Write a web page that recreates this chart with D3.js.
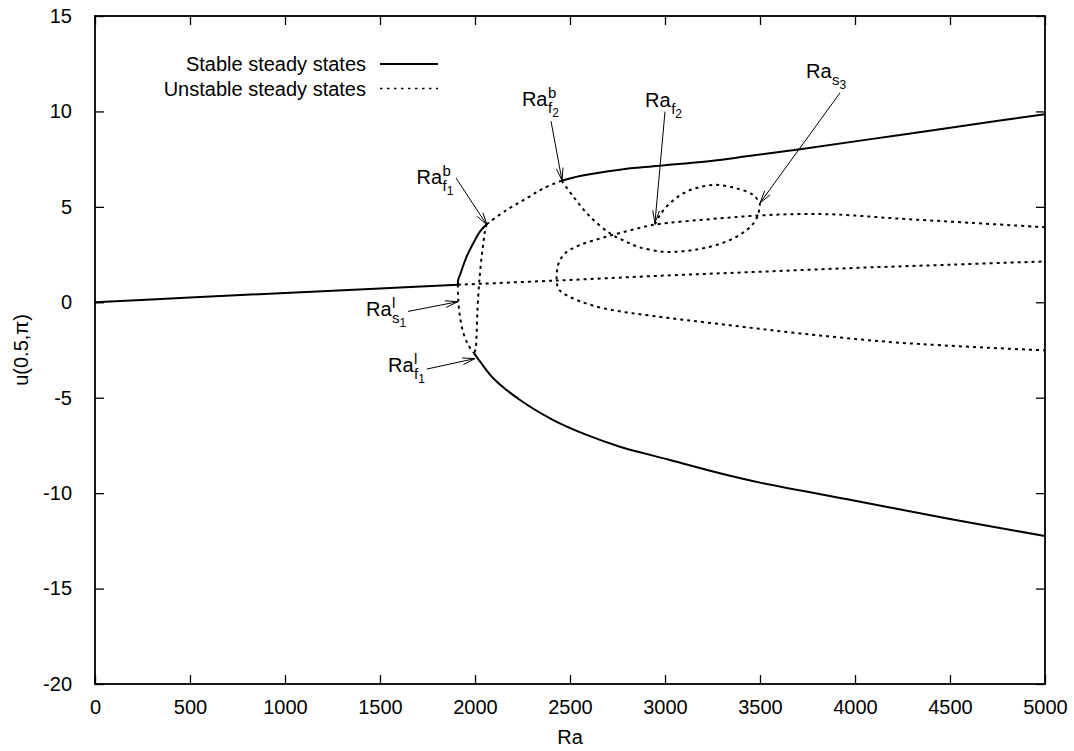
<!DOCTYPE html>
<html><head><meta charset="utf-8">
<script src="https://cdn.jsdelivr.net/npm/d3@7/dist/d3.min.js"></script>
<style>
body{margin:0;background:#fff}
text{font-family:"Liberation Sans",Arial,Helvetica,sans-serif;fill:#000}
</style>
</head><body>
<svg id="chart" width="1074" height="751"></svg>
<script>
// ---- tick values ----
const xTicks = [0,500,1000,1500,2000,2500,3000,3500,4000,4500,5000];
const yTicks = [-20,-15,-10,-5,0,5,10,15];

// ---- stable branches [Ra, u] ----
const stableBase = [[0,0],[500,0.25],[1000,0.49],[1500,0.72],[1910,0.92]];
const stableFoldUp = [[1910,0.92],[1912,1.2],[1921,1.43],[1930,1.69],[1956,2.39],[1991,3.09],[2026,3.7],[2061,4.09]];
const stableTop = [[2456,6.37],[2553,6.62],[2763,6.95],[2970,7.15],[3289,7.46],[3430,7.65],[3711,8.02],[4237,8.77],[4763,9.52],[5000,9.85]];
const stableBottom = [[1995,-2.68],[2030,-3.15],[2096,-3.98],[2237,-5.12],[2412,-6.17],[2588,-6.95],[2763,-7.57],[3026,-8.26],[3289,-8.96],[3500,-9.45],[4000,-10.4],[4500,-11.35],[5000,-12.25]];

// ---- unstable branches [Ra, u] ----
const unstableBase = [[1910,0.92],[2430,1.14],[3000,1.4],[3500,1.6],[4000,1.8],[4500,1.97],[5000,2.14]];
const unstableFoldDown = [[1910,0.92],[1911,0.3],[1913,-0.05],[1921,-0.75],[1939,-1.62],[1965,-2.24],[1995,-2.68]];
const unstableConnector = [[2061,4.09],[2052,3.7],[2044,3.1],[2035,2.4],[2027,1.6],[2021,0.9],[2013,-0.4],[2008,-1.8],[2003,-2.45],[1995,-2.68]];
const unstableUpperArc = [[2061,4.09],[2167,4.84],[2272,5.45],[2360,5.97],[2456,6.37]];
const unstableValley = [[2456,6.37],[2518,5.53],[2605,4.49],[2711,3.61],[2780,3.25],[2860,2.9],[2991,2.65],[3100,2.68],[3202,2.83],[3342,3.26],[3430,3.79],[3470,4.2],[3490,4.6],[3500,5.19]];
const unstableLoop = [[2947,4.08],[2975,4.6],[3026,5.19],[3114,5.8],[3254,6.15],[3377,5.97],[3465,5.62],[3500,5.19]];
const unstableC = [[5000,3.93],[4600,4.17],[4237,4.38],[3900,4.6],[3700,4.62],[3500,4.55],[3289,4.4],[2947,4.07],[2868,3.9],[2693,3.44],[2553,3.0],[2474,2.57],[2440,2.04],[2431,1.6],[2430,1.14],[2438,0.73],[2465,0.47],[2553,0.05],[2693,-0.35],[2939,-0.72],[3289,-1.14],[3711,-1.63],[4237,-2.12],[5000,-2.52]];

// ---- annotations ----
const annLabels = [
  {main:"Ra", sup:"b", sub:"f", subsub:"1", at:[1692,6.18]},
  {main:"Ra", sup:"l", sub:"s", subsub:"1", at:[1426,-0.72]},
  {main:"Ra", sup:"l", sub:"f", subsub:"1", at:[1542,-3.65]},
  {main:"Ra", sup:"b", sub:"f", subsub:"2", at:[2247,10.28]},
  {main:"Ra", sup:"",  sub:"f", subsub:"2", at:[2895,10.22]},
  {main:"Ra", sup:"",  sub:"s", subsub:"3", at:[3742,11.75]}
];
const annArrows = [
  {from:[1900,6.51], to:[2063,4.05]},
  {from:[1647,-0.48], to:[1910,0.03]},
  {from:[1746,-3.5], to:[2000,-2.95]},
  {from:[2400,9.49], to:[2458,6.38]},
  {from:[3000,9.99], to:[2947,4.15]},
  {from:[3921,10.97], to:[3500,5.2]}
];
const legendItems = [{label:"Stable steady states", dashed:false},{label:"Unstable steady states", dashed:true}];

const svg = d3.select("#chart");
const L=95, R=1045, T=16, B=684;
const x = d3.scaleLinear().domain([0,5000]).range([L,R]);
const y = d3.scaleLinear().domain([-20,15]).range([B,T]);
const fmt = d => String(d);

svg.append("defs").append("clipPath").attr("id","clip")
  .append("rect").attr("x",L).attr("y",T).attr("width",R-L).attr("height",B-T);

// axes with inward ticks on all sides
const tickLen = 9;
svg.append("g").attr("transform",`translate(0,${B})`)
  .call(d3.axisBottom(x).tickValues(xTicks).tickSizeInner(-tickLen).tickSizeOuter(0).tickPadding(16).tickFormat(fmt))
  .call(g=>{g.select(".domain").remove();g.selectAll("line").attr("stroke","#000").attr("stroke-width",1.3);g.selectAll("text").attr("font-size",20).attr("font-family",'"Liberation Sans",Arial,sans-serif');});
svg.append("g").attr("transform",`translate(0,${T})`)
  .call(d3.axisTop(x).tickValues(xTicks).tickSizeInner(-tickLen).tickSizeOuter(0).tickFormat(""))
  .call(g=>{g.select(".domain").remove();g.selectAll("line").attr("stroke","#000").attr("stroke-width",1.3);});
svg.append("g").attr("transform",`translate(${L},0)`)
  .call(d3.axisLeft(y).tickValues(yTicks).tickSizeInner(-tickLen).tickSizeOuter(0).tickPadding(23).tickFormat(fmt))
  .call(g=>{g.select(".domain").remove();g.selectAll("line").attr("stroke","#000").attr("stroke-width",1.3);g.selectAll("text").attr("font-size",20).attr("font-family",'"Liberation Sans",Arial,sans-serif');});
svg.append("g").attr("transform",`translate(${R},0)`)
  .call(d3.axisRight(y).tickValues(yTicks).tickSizeInner(-tickLen).tickSizeOuter(0).tickFormat(""))
  .call(g=>{g.select(".domain").remove();g.selectAll("line").attr("stroke","#000").attr("stroke-width",1.3);});

svg.append("rect").attr("x",L).attr("y",T).attr("width",R-L).attr("height",B-T)
  .attr("fill","none").attr("stroke","#000").attr("stroke-width",1.8);

// axis titles
svg.append("text").attr("x",(L+R)/2).attr("y",744).attr("text-anchor","middle").attr("font-size",20).text("Ra");
svg.append("text").attr("transform",`translate(28,${(T+B)/2}) rotate(-90)`).attr("text-anchor","middle").attr("font-size",20).text("u(0.5,π)");

// curves
const line = d3.line().x(d=>x(d[0])).y(d=>y(d[1])).curve(d3.curveCatmullRom.alpha(0.5));
const plot = svg.append("g").attr("clip-path","url(#clip)");
[stableBase, stableFoldUp, stableTop, stableBottom].forEach(s=>{
  plot.append("path").attr("d",line(s)).attr("fill","none").attr("stroke","#000").attr("stroke-width",2);
});
[unstableBase, unstableFoldDown, unstableConnector, unstableUpperArc, unstableValley, unstableLoop, unstableC].forEach(s=>{
  plot.append("path").attr("d",line(s)).attr("fill","none").attr("stroke","#000").attr("stroke-width",2).attr("stroke-dasharray","3,4");
});

// arrows
annArrows.forEach(a=>{
  const x1=x(a.from[0]), y1=y(a.from[1]), x2=x(a.to[0]), y2=y(a.to[1]);
  svg.append("line").attr("x1",x1).attr("y1",y1).attr("x2",x2).attr("y2",y2).attr("stroke","#000").attr("stroke-width",1);
  const ang=Math.atan2(y2-y1,x2-x1), hl=13, th=Math.PI/12;
  [ang+th, ang-th].forEach(t=>{
    svg.append("line").attr("x1",x2).attr("y1",y2).attr("x2",x2-hl*Math.cos(t)).attr("y2",y2-hl*Math.sin(t)).attr("stroke","#000").attr("stroke-width",1);
  });
});

// labels with sub/superscripts
annLabels.forEach(a=>{
  const px=x(a.at[0]), py=y(a.at[1]);
  const m = svg.append("text").attr("x",px).attr("y",py).attr("font-size",20).text(a.main);
  const w = m.node().getComputedTextLength();
  if(a.sup) svg.append("text").attr("x",px+w+0.5).attr("y",py-8).attr("font-size",15).text(a.sup);
  const s = svg.append("text").attr("x",px+w+0.5).attr("y",py+7).attr("font-size",15).text(a.sub);
  const sw = s.node().getComputedTextLength();
  svg.append("text").attr("x",px+w+0.5+sw).attr("y",py+11).attr("font-size",12).text(a.subsub);
});

// legend
legendItems.forEach((it,i)=>{
  const yy = 64 + i*24.5;
  svg.append("text").attr("x",366).attr("y",yy+7).attr("text-anchor","end").attr("font-size",20).text(it.label);
  const l = svg.append("line").attr("x1",380).attr("x2",438).attr("y1",yy).attr("y2",yy).attr("stroke","#000").attr("stroke-width",it.dashed?1.5:2);
  if(it.dashed) l.attr("stroke-dasharray","2.5,4.5");
});
</script>
</body></html>
